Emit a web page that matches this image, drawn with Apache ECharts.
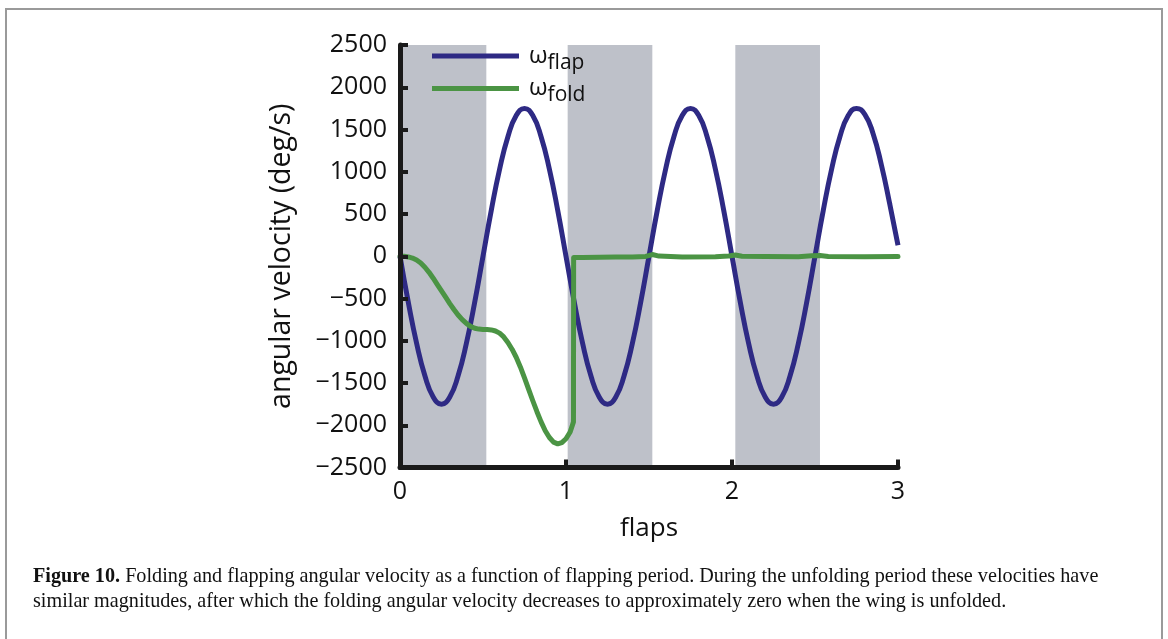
<!DOCTYPE html>
<html><head><meta charset="utf-8">
<script src="https://cdn.jsdelivr.net/npm/echarts@6/dist/echarts.min.js"></script>
<style>html,body{margin:0;padding:0;background:#fff}#c{width:1168px;height:639px}</style>
</head><body><div id="c"></div>
<script>
// ---- data ----
const flapT = [0,0.05,0.1,0.15,0.2,0.25,0.3,0.35,0.4,0.45,0.5,0.55,0.6,0.65,0.7,0.75,0.8,0.85,0.9,0.95,
  1,1.05,1.1,1.15,1.2,1.25,1.3,1.35,1.4,1.45,1.5,1.55,1.6,1.65,1.7,1.75,1.8,1.85,1.9,1.95,
  2,2.05,2.1,2.15,2.2,2.25,2.3,2.35,2.4,2.45,2.5,2.55,2.6,2.65,2.7,2.75,2.8,2.85,2.9,2.95,3];
const flapV = [0,-545,-1030,-1415,-1665,-1750,-1665,-1415,-1030,-545,0,545,1030,1415,1665,1750,1665,1415,1030,545,
  0,-545,-1030,-1415,-1665,-1750,-1665,-1415,-1030,-545,0,545,1030,1415,1665,1750,1665,1415,1030,545,
  0,-545,-1030,-1415,-1665,-1750,-1665,-1415,-1030,-545,0,545,1030,1415,1665,1750,1680,1450,1080,620,130];
const foldT = [0,0.025,0.05,0.075,0.1,0.125,0.15,0.175,0.2,0.225,0.25,0.275,0.3,0.325,0.35,0.375,0.4,0.425,0.45,0.475,
  0.5,0.525,0.55,0.575,0.6,0.625,0.65,0.675,0.7,0.725,0.75,0.775,0.8,0.825,0.85,0.875,0.9,0.925,0.95,0.975,
  1,1.025,1.04,1.045,1.046,1.1,1.2,1.3,1.4,1.48,1.52,1.56,1.7,1.9,1.98,2.02,2.06,2.2,2.4,2.48,2.53,2.58,2.8,3];
const foldV = [0,0,-8,-22,-45,-80,-130,-190,-260,-335,-410,-485,-560,-630,-695,-750,-795,-830,-852,-862,
  -866,-868,-872,-885,-910,-955,-1020,-1100,-1195,-1310,-1440,-1575,-1710,-1840,-1960,-2065,-2145,-2200,-2220,-2205,
  -2160,-2080,-1990,-1960,-15,-14,-12,-10,-8,-2,20,2,-8,-5,2,15,0,-3,-5,5,10,-2,-5,-3];
const bandStart = [0, 1.01, 2.02];
const bandEnd = [0.52, 1.52, 2.53];
const xTicks = [0, 1, 2, 3];
const yTicks = [-2500,-2000,-1500,-1000,-500,0,500,1000,1500,2000,2500];
const seriesNames = ['flap', 'fold'];

const zip = (a, b) => a.map((v, i) => [v, b[i]]);
const chart = echarts.init(document.getElementById('c'), null, {renderer: 'canvas'});
const sans = '"Open Sans", "Noto Sans", sans-serif';
const serif = '"Liberation Serif", "DejaVu Serif", serif';
chart.setOption({
  backgroundColor: '#fff',
  animation: false,
  grid: {left: 400, right: 270, top: 45, bottom: 171.5, containLabel: false},
  xAxis: {
    type: 'value', min: xTicks[0], max: xTicks[xTicks.length - 1], interval: 1, z: 10,
    name: 'flaps', nameLocation: 'middle', nameGap: 48,
    nameTextStyle: {fontFamily: sans, fontSize: 26, color: '#111'},
    axisLine: {show: true, onZero: false, lineStyle: {color: '#1a1a1a', width: 5}},
    axisTick: {show: true, inside: true, length: 8, lineStyle: {color: '#1a1a1a', width: 4}},
    axisLabel: {fontFamily: sans, fontSize: 25, color: '#111', margin: 12},
    splitLine: {show: false}
  },
  yAxis: {
    type: 'value', min: yTicks[0], max: yTicks[yTicks.length - 1], interval: 500, z: 10,
    name: 'angular velocity (deg/s)', nameLocation: 'middle', nameGap: 104,
    nameTextStyle: {fontFamily: sans, fontSize: 28.5, color: '#111'},
    axisLine: {show: true, onZero: false, lineStyle: {color: '#1a1a1a', width: 5}},
    axisTick: {show: true, inside: true, length: 8, lineStyle: {color: '#1a1a1a', width: 4}},
    axisLabel: {fontFamily: sans, fontSize: 25, color: '#111', margin: 13,
      formatter: v => String(v).replace('-', '\u2212')},
    splitLine: {show: false}
  },
  legend: {
    orient: 'vertical', left: 427, top: 39, itemWidth: 87, itemHeight: 5, itemGap: 3,
    icon: 'rect',
    data: seriesNames,
    formatter: n => '{w|\u03c9}{s|' + n + '}',
    textStyle: {
      fontFamily: sans, color: '#111',
      rich: {w: {fontSize: 24, fontFamily: sans, padding: [0, 0, 0, 5]}, s: {fontSize: 21, fontFamily: sans, padding: [14, 0, 0, 0]}}
    }
  },
  series: [
    {
      type: 'line', name: 'bands', data: [], silent: true, z: 1,
      markArea: {silent: true, itemStyle: {color: '#bec1c9', opacity: 1},
        data: bandStart.map((s, i) => [{xAxis: s}, {xAxis: bandEnd[i]}])}
    },
    {
      type: 'line', name: seriesNames[0], data: zip(flapT, flapV), smooth: 0.5,
      symbol: 'none', z: 3, lineStyle: {color: '#2e2a84', width: 5}, itemStyle: {color: '#2e2a84'}
    },
    {
      type: 'line', name: seriesNames[1], data: zip(foldT, foldV), smooth: false,
      symbol: 'none', z: 4, lineStyle: {color: '#4b9444', width: 5, join: 'round', cap: 'round'}, itemStyle: {color: '#4b9444'}
    }
  ],
  graphic: [
    {type: 'rect', shape: {x: 6, y: 9, width: 1156, height: 700}, style: {fill: 'none', stroke: '#9a9a9a', lineWidth: 2}, silent: true},
    {type: 'text', left: 33, top: 564, style: {
      text: '{b|Figure 10.} Folding and flapping angular velocity as a function of flapping period. During the unfolding period these velocities have\nsimilar magnitudes, after which the folding angular velocity decreases to approximately zero when the wing is unfolded.',
      fontFamily: serif, fontSize: 20.2, fill: '#111', lineHeight: 25,
      rich: {b: {fontWeight: 'bold', fontFamily: serif, fontSize: 20.2, fill: '#111', lineHeight: 25}}
    }}
  ]
});
</script></body></html>
